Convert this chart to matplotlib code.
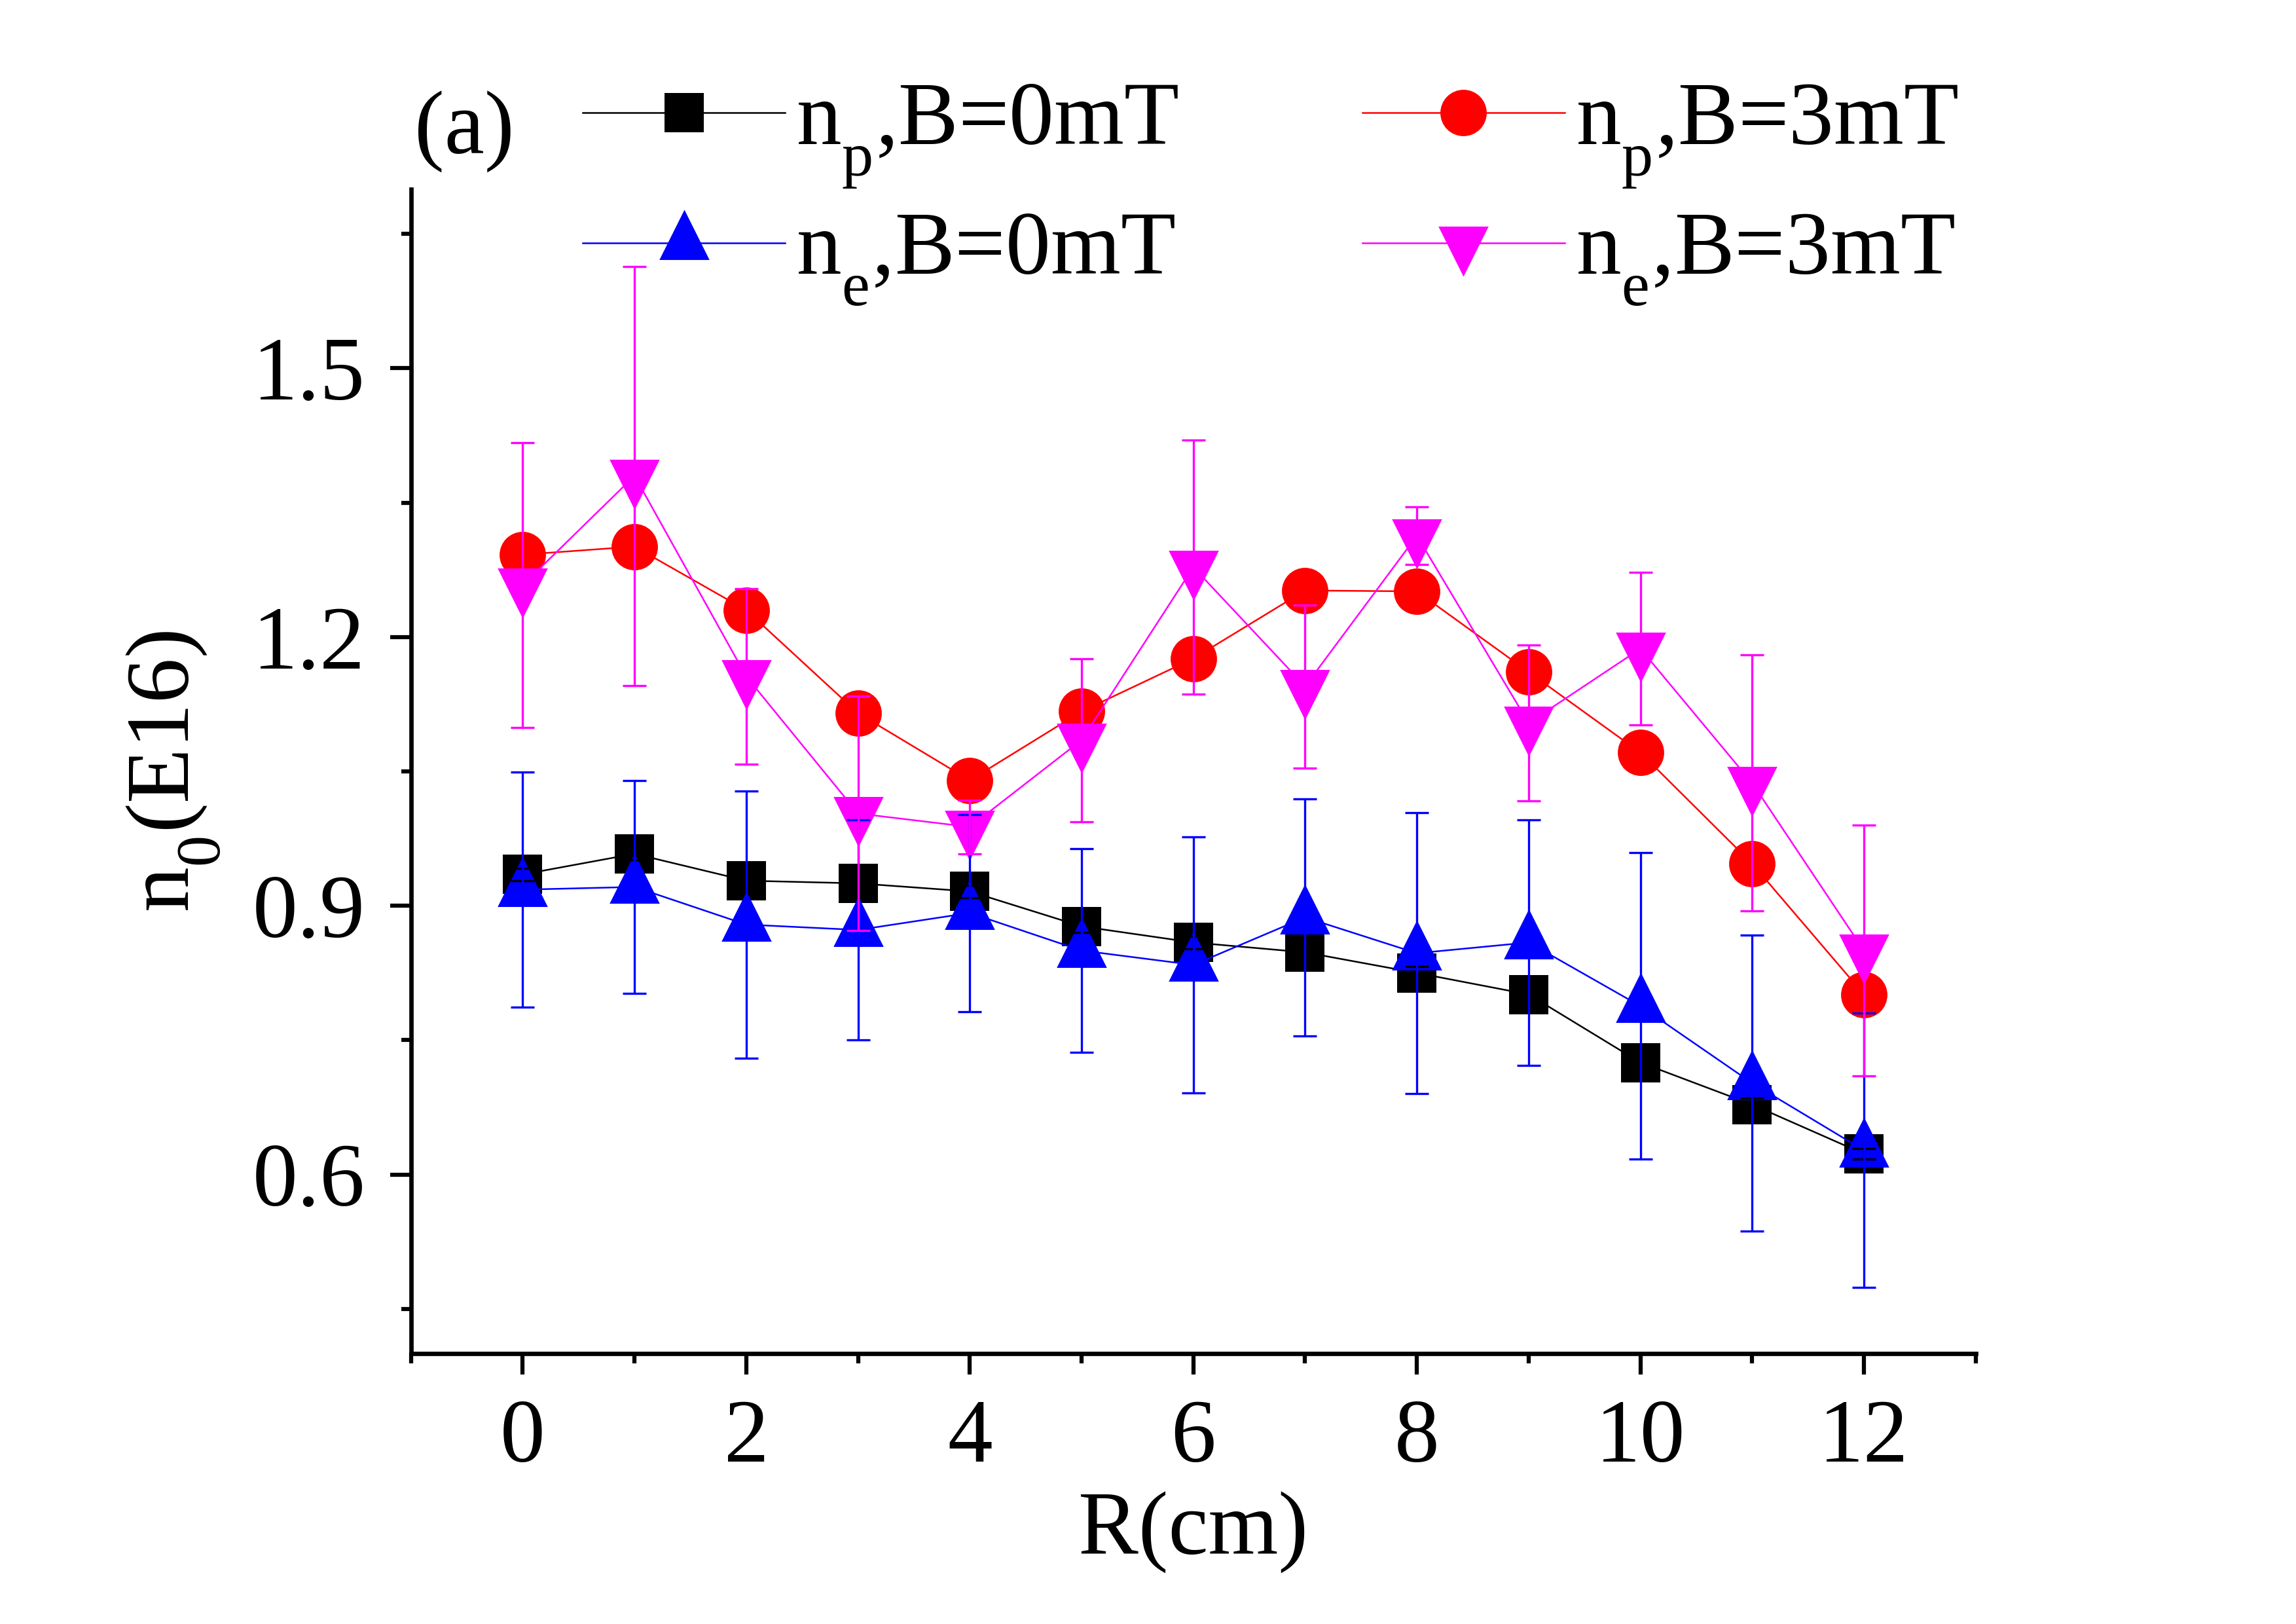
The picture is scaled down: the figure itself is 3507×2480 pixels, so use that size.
import matplotlib
matplotlib.use("Agg")
import matplotlib.pyplot as plt
from matplotlib.ticker import MultipleLocator

plt.rcParams["font.family"] = ["Liberation Serif", "DejaVu Serif"]
plt.rcParams["mathtext.fontset"] = "custom"
plt.rcParams["mathtext.rm"] = "Liberation Serif"
plt.rcParams["mathtext.it"] = "Liberation Serif:italic"

# Origin puts subscripts lower than mathtext does by default
try:
    import matplotlib._mathtext as _mt
    _mt.FontConstantsBase.sub1 = 0.75
    _mt.FontConstantsBase.sub2 = 0.75
except Exception:
    pass

# radius (cm)
r_cm = [0, 1, 2, 3, 4, 5, 6, 7, 8, 9, 10, 11, 12]

# n_p, B=0mT
np_b0 = [0.935, 0.958, 0.928, 0.925, 0.916, 0.877, 0.859, 0.848, 0.825, 0.801, 0.725, 0.678, 0.623]
np_b0_err = [0.007, 0.007, 0.007, 0.007, 0.007, 0.007, 0.007, 0.007, 0.007, 0.007, 0.007, 0.007, 0.006]
# n_p, B=3mT
np_b3 = [1.292, 1.301, 1.230, 1.115, 1.040, 1.117, 1.176, 1.252, 1.251, 1.161, 1.071, 0.947, 0.801]
# n_e, B=0mT
ne_b0 = [0.918, 0.921, 0.879, 0.873, 0.892, 0.850, 0.834, 0.887, 0.847, 0.859, 0.788, 0.702, 0.627]
ne_b0_err = [0.131, 0.119, 0.149, 0.123, 0.110, 0.114, 0.143, 0.132, 0.157, 0.137, 0.171, 0.165, 0.153]
# n_e, B=3mT
ne_b3 = [1.258, 1.380, 1.156, 1.003, 0.988, 1.085, 1.278, 1.145, 1.313, 1.104, 1.187, 1.037, 0.850]
ne_b3_err = [0.159, 0.234, 0.098, 0.131, 0.030, 0.091, 0.142, 0.091, 0.032, 0.087, 0.085, 0.143, 0.140]

labels = [r"n$_\mathrm{p}$,B=0mT", r"n$_\mathrm{p}$,B=3mT",
          r"n$_\mathrm{e}$,B=0mT", r"n$_\mathrm{e}$,B=3mT"]

# triangles centred on their centroid (like Origin)
tri_up = [(-0.5, -1 / 3), (0.5, -1 / 3), (0.0, 2 / 3), (-0.5, -1 / 3)]
tri_down = [(-0.5, 1 / 3), (0.5, 1 / 3), (0.0, -2 / 3), (-0.5, 1 / 3)]

FS = 33

fig = plt.figure(figsize=(3507 / 300, 2480 / 300), dpi=300)
ax = fig.add_axes([0.179, 0.1665, 0.6815, 0.717])

lw = 0.6
h1, = ax.plot(r_cm, np_b0, color="black", lw=lw, marker="s", ms=14.5, mew=0, label=labels[0])
h2, = ax.plot(r_cm, np_b3, color="red", lw=lw, marker="o", ms=17, mew=0, label=labels[1])
h3, = ax.plot(r_cm, ne_b0, color="blue", lw=lw, marker=tri_up, ms=24.5, mew=0, label=labels[2])
h4, = ax.plot(r_cm, ne_b3, color="magenta", lw=lw, marker=tri_down, ms=24.5, mew=0, label=labels[3])

ekw = dict(fmt="none", elinewidth=0.8, capsize=4.3, capthick=0.8, zorder=3)
ax.errorbar(r_cm, np_b0, yerr=np_b0_err, ecolor="black", **ekw)
ax.errorbar(r_cm, ne_b0, yerr=ne_b0_err, ecolor="blue", **ekw)
ax.errorbar(r_cm, ne_b3, yerr=ne_b3_err, ecolor="magenta", **ekw)

ax.set_xlim(-1, 13)
ax.set_ylim(0.4, 1.7)
ax.xaxis.set_major_locator(MultipleLocator(2))
ax.xaxis.set_minor_locator(MultipleLocator(1))
ax.yaxis.set_major_locator(MultipleLocator(0.3))
ax.yaxis.set_minor_locator(MultipleLocator(0.15))
ax.set_yticks([0.6, 0.9, 1.2, 1.5])
ax.set_yticklabels(["0.6", "0.9", "1.2", "1.5"])

for side in ["top", "right"]:
    ax.spines[side].set_visible(False)
for side in ["left", "bottom"]:
    ax.spines[side].set_linewidth(1.6)

ax.tick_params(which="major", direction="out", length=7.7, width=1.5, labelsize=FS, pad=9)
ax.tick_params(which="minor", direction="out", length=3.5, width=1.5)

ax.set_xlabel("R(cm)", fontsize=FS, labelpad=4)
ax.set_ylabel(r"n$_0$(E16)", fontsize=FS, labelpad=11)

fig.text(0.1805, 0.9052, "(a)", fontsize=FS, va="baseline", ha="left")

ax.legend(handles=[h1, h3, h2, h4], ncol=2, loc="upper left",
          bbox_to_anchor=(0.2538, 0.950), bbox_transform=fig.transFigure,
          frameon=False, fontsize=FS, borderpad=0, borderaxespad=0,
          handlelength=2.25, handletextpad=0.12, columnspacing=2.04,
          labelspacing=0.24)

fig.savefig("out.png", dpi=300)
